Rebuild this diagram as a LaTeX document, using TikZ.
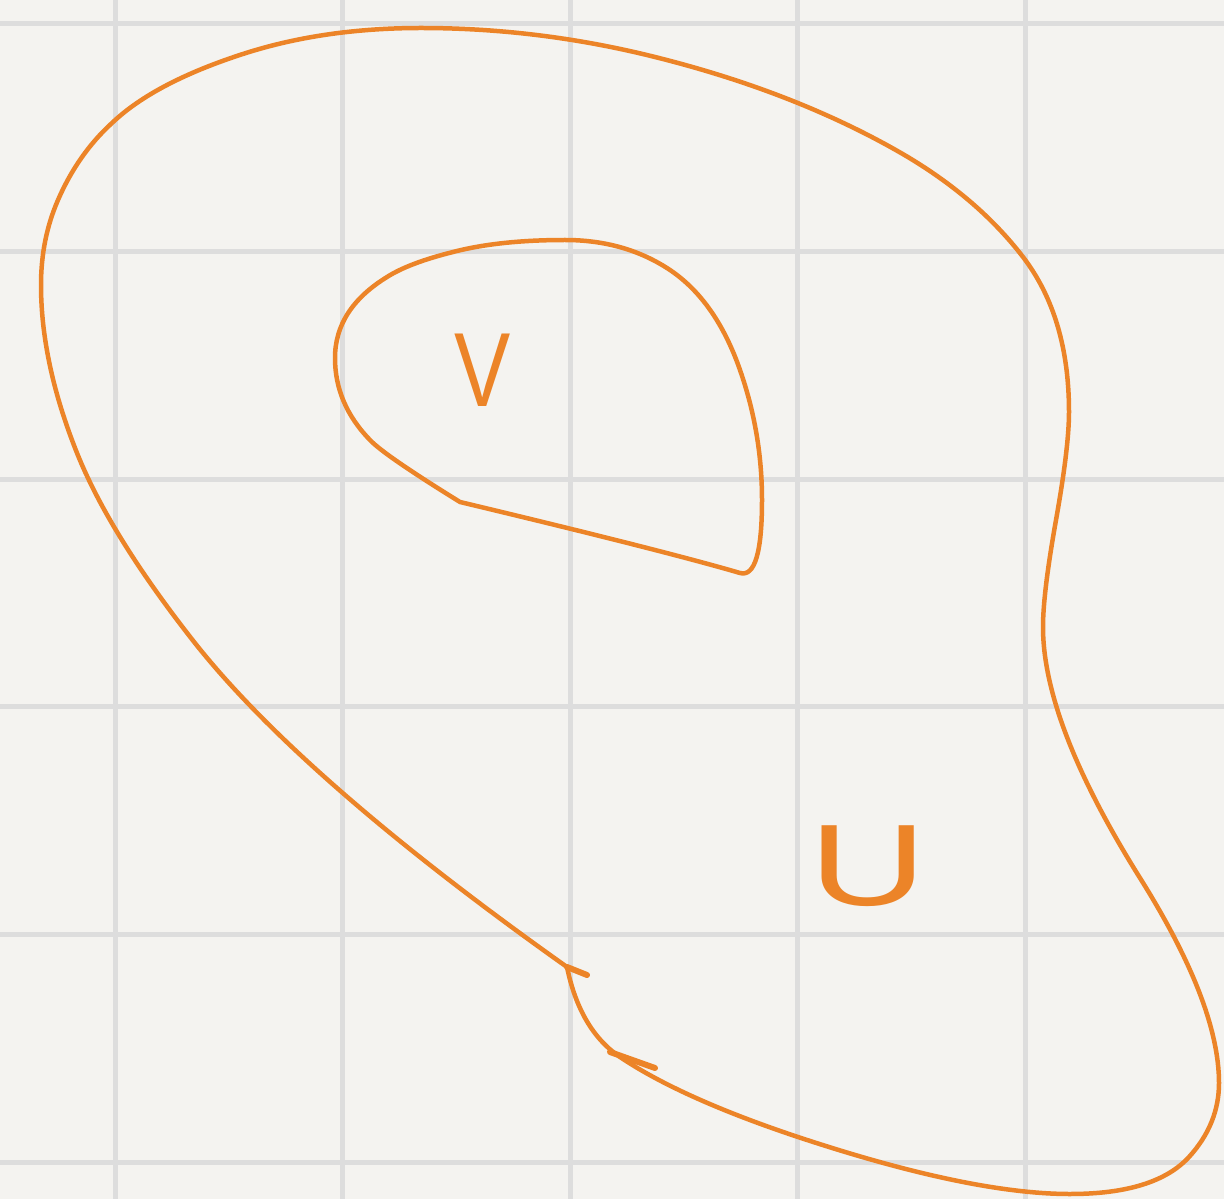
\documentclass[tikz,border=0pt]{standalone}
\usepackage{fontspec}
\newfontfamily\handfont{Liberation Sans}
\usepackage{tikz}
\usetikzlibrary{calc}
\usepackage{xcolor}
\definecolor{paper}{RGB}{244,243,240}
\definecolor{rule}{RGB}{221,221,221}
\definecolor{marker}{RGB}{236,132,40}
\tikzstyle{ruling}=[draw=rule,line width=0.1cm]
\tikzstyle{pen}=[draw=marker,line width=0.09cm,line cap=round,line join=round]
\tikzstyle{tick}=[pen,line width=0.12cm]
\tikzstyle{letter}=[text=marker,inner sep=0pt]
% quadratic piece from #1 over control #2 to #3
\newcommand\smoothto[3]{.. controls ($(#1)!0.667!(#2)$) and ($(#3)!0.667!(#2)$) .. (#3)}

\begin{document}
\begin{tikzpicture}[x=0.02cm,y=-0.02cm]
  \useasboundingbox (0,0) rectangle (1224,1199);
  
  % PAPER
  \fill[paper] (0,0) rectangle (1224,1199);
  \foreach \x in {115,342.5,570,797.5,1025}{
    \draw[ruling] (\x,0) -- (\x,1199);
  }
  \foreach \y in {24,251.6,479.2,706.8,934.4,1162}{
    \draw[ruling] (0,\y) -- (1224,\y);
  }
  
  \coordinate (T)   at ( 567, 967); % TIP
  \coordinate (WC1) at ( 299, 777);
  \coordinate (W1)  at ( 191, 638);
  \coordinate (WC2) at ( 109, 533);
  \coordinate (W2)  at (  77, 453);
  \coordinate (WC3) at (  41, 363);
  \coordinate (W3)  at (  41, 285); % WEST
  \coordinate (WC4) at (  41, 239);
  \coordinate (W4)  at (  58, 200);
  \coordinate (WC5) at (  78, 154);
  \coordinate (NW)  at ( 112, 123); % NORTH WEST
  \coordinate (NC1) at ( 155,  82);
  \coordinate (N1)  at ( 246,  53);
  \coordinate (NC2) at ( 325,  28);
  \coordinate (N2)  at ( 421,  28); % NORTH
  \coordinate (NC3) at ( 539,  28);
  \coordinate (N3)  at ( 655,  57);
  \coordinate (NC4) at ( 795,  92);
  \coordinate (N4)  at ( 901, 153);
  \coordinate (NC5) at ( 977, 197);
  \coordinate (NE)  at (1023, 257); % NORTH EAST
  \coordinate (EC1) at (1069, 317);
  \coordinate (E1)  at (1069, 412); % EAST
  \coordinate (EC2) at (1069, 447);
  \coordinate (E2)  at (1056, 520);
  \coordinate (EC3) at (1043, 593);
  \coordinate (E3)  at (1043, 627);
  \coordinate (EC4) at (1043, 723);
  \coordinate (E4)  at (1140, 878);
  \coordinate (EC5) at (1219,1004);
  \coordinate (SE)  at (1219,1083); % SOUTH EAST
  \coordinate (SC1) at (1219,1124);
  \coordinate (S1)  at (1189,1157);
  \coordinate (SC2) at (1155,1194);
  \coordinate (S2)  at (1070,1194); % SOUTH
  \coordinate (SC3) at ( 970,1194);
  \coordinate (S3)  at ( 798,1137);
  \coordinate (SC4) at ( 681,1098);
  \coordinate (S4)  at ( 620,1057);
  \coordinate (SC5) at ( 580,1030);
  
  % SET U
  \draw[pen]
    (T) \smoothto{T}{WC1}{W1}
        \smoothto{W1}{WC2}{W2}
        \smoothto{W2}{WC3}{W3} % WEST
        \smoothto{W3}{WC4}{W4}
        \smoothto{W4}{WC5}{NW} % NORTH WEST
        \smoothto{NW}{NC1}{N1}
        \smoothto{N1}{NC2}{N2}
        \smoothto{N2}{NC3}{N3}
        \smoothto{N3}{NC4}{N4}
        \smoothto{N4}{NC5}{NE} % NORTH EAST
        \smoothto{NE}{EC1}{E1}
        \smoothto{E1}{EC2}{E2}
        \smoothto{E2}{EC3}{E3}
        \smoothto{E3}{EC4}{E4}
        \smoothto{E4}{EC5}{SE} % SOUTH EAST
        \smoothto{SE}{SC1}{S1}
        \smoothto{S1}{SC2}{S2}
        \smoothto{S2}{SC3}{S3}
        \smoothto{S3}{SC4}{S4}
        \smoothto{S4}{SC5}{T};
  \coordinate (T1) at (587, 975);
  \coordinate (T2) at (610,1052);
  \coordinate (T3) at (655,1068);
  \draw[tick] (T) -- (T1);
  \draw[tick] (T2) -- (T3);
  
  \coordinate (I0)   at (460,502); % CORNER
  \coordinate (IC1)  at (384,455);
  \coordinate (I1)   at (370,440);
  \coordinate (IC2)  at (335,404);
  \coordinate (I2)   at (335,358); % WEST
  \coordinate (IC3)  at (335,309);
  \coordinate (I3)   at (387,277);
  \coordinate (IC4)  at (409,263);
  \coordinate (I4)   at (453,252);
  \coordinate (IC5)  at (499,240);
  \coordinate (I5)   at (565,240); % NORTH
  \coordinate (IC6)  at (625,240);
  \coordinate (I6)   at (670,270);
  \coordinate (IC7)  at (716,301);
  \coordinate (I7)   at (740,370);
  \coordinate (IC8)  at (762,433);
  \coordinate (I8)   at (762,500); % EAST
  \coordinate (IC9)  at (762,579);
  \coordinate (I9)   at (740,573);
  \coordinate (IC10) at (665,551);
  
  % SET V
  \draw[pen]
    (I0) \smoothto{I0}{IC1}{I1}
         \smoothto{I1}{IC2}{I2} % WEST
         \smoothto{I2}{IC3}{I3}
         \smoothto{I3}{IC4}{I4}
         \smoothto{I4}{IC5}{I5} % NORTH
         \smoothto{I5}{IC6}{I6}
         \smoothto{I6}{IC7}{I7}
         \smoothto{I7}{IC8}{I8} % EAST
         \smoothto{I8}{IC9}{I9}
         \smoothto{I9}{IC10}{I0} -- cycle;
  
  % LABELS
  \node[letter,xscale=0.8,font=\handfont\fontsize{60}{60}\selectfont] (V) at (483,370) {V};
  \node[letter,xscale=1.4,font=\handfont\fontsize{66}{66}\selectfont] (U) at (868,866) {U};
  
\end{tikzpicture}
\end{document}
